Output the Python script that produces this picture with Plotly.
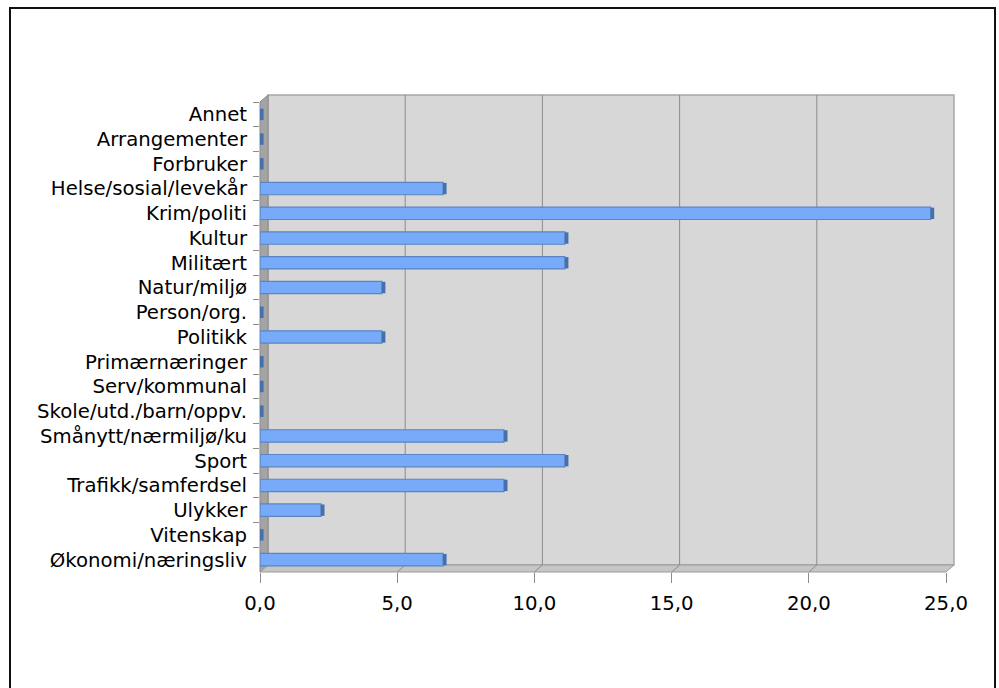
import plotly.graph_objects as go

categories = ["Annet", "Arrangementer", "Forbruker", "Helse/sosial/levekår", "Krim/politi",
              "Kultur", "Militært", "Natur/miljø", "Person/org.", "Politikk", "Primærnæringer",
              "Serv/kommunal", "Skole/utd./barn/oppv.", "Smånytt/nærmiljø/ku", "Sport",
              "Trafikk/samferdsel", "Ulykker", "Vitenskap", "Økonomi/næringsliv"]
values = [0.0, 0.0, 0.0, 6.67, 24.44, 11.11, 11.11, 4.44, 0.0, 4.44, 0.0, 0.0, 0.0,
          8.89, 11.11, 8.89, 2.22, 0.0, 6.67]
x_ticks = [0, 5, 10, 15, 20, 25]
x_ticklabels = ["0,0", "5,0", "10,0", "15,0", "20,0", "25,0"]

ML, MT, PW, PH = 260, 102, 686, 470
W, H = 999, 688
DX, DY = 8, 7  # 3D depth in pixels


def px(x):
    return (x - ML) / PW


def py(y):
    return (MT + PH - y) / PH


fig = go.Figure()
fig.add_trace(go.Bar(
    y=categories, x=values, orientation="h", width=0.5,
    marker=dict(color="#77AAF8", line=dict(color="#5A84C4", width=1.2)),
    hoverinfo="x+y", showlegend=False))
fig.add_trace(go.Bar(
    y=categories, x=[0.13] * len(values), base=values, orientation="h", width=0.46,
    marker=dict(color="#4670AC", line=dict(width=0)),
    hoverinfo="skip", showlegend=False))

X0, Y0 = 260, 572  # front-bottom-left corner in page pixels
X1, Y1 = 946, 102
shapes = []
# back wall
shapes.append(dict(type="rect", xref="paper", yref="paper", x0=px(X0 + DX), x1=px(X1 + DX),
                   y0=py(Y0 - DY), y1=py(Y1 - DY), fillcolor="#D7D7D7",
                   line=dict(color="#A8A8A8", width=1.5), layer="below"))
# left wall
shapes.append(dict(type="path", xref="paper", yref="paper",
                   path=f"M{px(X0)},{py(Y0)} L{px(X0)},{py(Y1)} L{px(X0+DX)},{py(Y1-DY)} L{px(X0+DX)},{py(Y0-DY)} Z",
                   fillcolor="#A4A4A4", line=dict(color="#8A8A8A", width=1), layer="below"))
# floor
shapes.append(dict(type="path", xref="paper", yref="paper",
                   path=f"M{px(X0)},{py(Y0)} L{px(X1)},{py(Y0)} L{px(X1+DX)},{py(Y0-DY)} L{px(X0+DX)},{py(Y0-DY)} Z",
                   fillcolor="#C6C6C6", line=dict(color="#9A9A9A", width=1), layer="below"))
# gridlines on back wall and floor
for v in x_ticks[1:-1]:
    shapes.append(dict(type="line", xref="x", xsizemode="pixel", xanchor=v, x0=DX, x1=DX,
                       yref="paper", y0=py(Y0 - DY), y1=py(Y1 - DY),
                       line=dict(color="#8C8C8C", width=1), layer="below"))
for v in x_ticks[1:]:
    shapes.append(dict(type="line", xref="x", xsizemode="pixel", xanchor=v, x0=0, x1=DX,
                       yref="paper", y0=py(Y0), y1=py(Y0 - DY),
                       line=dict(color="#8C8C8C", width=1), layer="below"))
# outer frame
shapes.append(dict(type="rect", xref="paper", yref="paper", x0=px(10), x1=px(995),
                   y0=py(720), y1=py(8), line=dict(color="#111111", width=2),
                   fillcolor="rgba(0,0,0,0)", layer="below"))

fig.update_layout(
    width=W, height=H, margin=dict(l=ML, r=W - ML - PW, t=MT, b=H - MT - PH),
    paper_bgcolor="white", plot_bgcolor="rgba(0,0,0,0)",
    barmode="overlay", bargap=0.5,
    font=dict(family="DejaVu Sans, Verdana, sans-serif", size=19.7, color="#000000"),
    shapes=shapes, showlegend=False,
    xaxis=dict(range=[0, 25], tickvals=x_ticks, ticktext=x_ticklabels, showgrid=False,
               zeroline=False, showline=False, ticks="outside", ticklen=10,
               tickcolor="#8C8C8C", tickwidth=1, fixedrange=True, ticklabelstandoff=3),
    yaxis=dict(categoryorder="array", categoryarray=categories, autorange="reversed",
               showgrid=False, zeroline=False, showline=False, ticks="outside",
               tickson="boundaries", ticklen=6, tickcolor="#8C8C8C", tickwidth=1,
               fixedrange=True, ticklabelstandoff=12),
)

fig.write_html("out.html", config={"displayModeBar": False},
               post_script="document.body.style.margin='0';document.body.style.overflow='hidden';")
